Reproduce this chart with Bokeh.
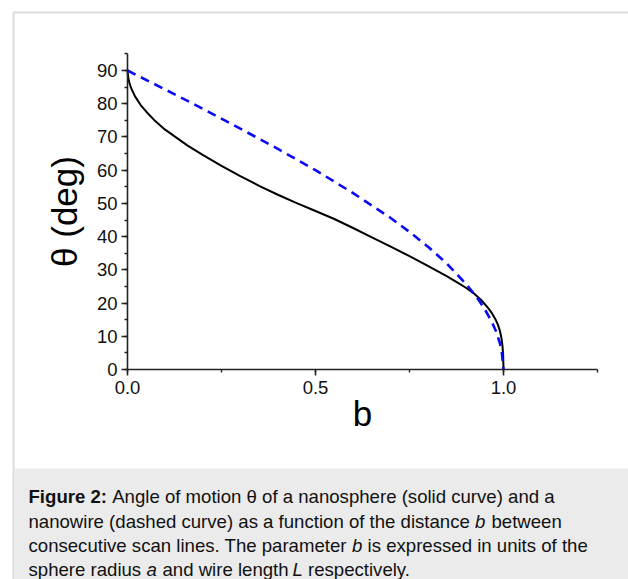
from bokeh.plotting import figure
from bokeh.models import (SingleIntervalTicker, PrintfTickFormatter, LinearAxis,
                          ColumnDataSource, Range1d)
from bokeh.core.properties import value
from bokeh.embed import file_html
from bokeh.resources import INLINE

# ---- data ----
# nanosphere (solid curve)
b_sphere = [0.0, 0.002, 0.005, 0.01, 0.02, 0.035, 0.05, 0.07, 0.10, 0.13, 0.16,
            0.20, 0.25, 0.30, 0.35, 0.40, 0.45, 0.50, 0.55, 0.60, 0.65, 0.70,
            0.75, 0.80, 0.85, 0.88, 0.90, 0.92, 0.94, 0.96, 0.97, 0.98, 0.985,
            0.99, 0.994, 0.997, 0.999, 1.0]
theta_sphere = [90.0, 87.8, 86.3, 84.6, 82.2, 79.6, 77.6, 75.2, 72.2, 69.8, 67.4,
                64.6, 61.3, 58.2, 55.3, 52.6, 50.1, 47.7, 45.3, 42.6, 39.8, 37.0,
                34.1, 31.1, 28.0, 26.0, 24.6, 23.0, 21.0, 18.4, 16.8, 14.8, 13.5,
                11.8, 9.8, 7.4, 4.5, 0.0]
# nanowire (dashed curve)
b_wire = [0.0, 0.1, 0.2, 0.3, 0.4, 0.5, 0.6, 0.7, 0.75, 0.8, 0.85, 0.9, 0.93,
          0.95, 0.97, 0.98, 0.99, 0.995, 1.0]
theta_wire = [90.0, 84.3, 78.5, 72.5, 66.4, 60.0, 53.1, 45.6, 41.4, 36.9, 31.8,
              25.8, 21.6, 18.2, 14.1, 11.5, 8.1, 5.7, 0.0]

x_label = "b"
y_label = "\u03b8 (deg)"
x_axis_extent = (0, 1.25)
y_axis_extent = (0, 95)

# caption text runs
cap_text = ["Figure 2:", "Angle of motion \u03b8 of a nanosphere (solid curve) and a",
            "nanowire (dashed curve) as a function of the distance", "b", "between",
            "consecutive scan lines. The parameter", "b", "is expressed in units of the",
            "sphere radius", "a", "and wire length", "L", "respectively."]
cap_style = ["bold", "normal",
             "normal", "italic", "normal",
             "normal", "italic", "normal",
             "normal", "italic", "normal", "italic", "normal"]
cap_line = [0, 0, 1, 1, 1, 2, 2, 2, 3, 3, 3, 3, 3]
# layout (page pixels)
cap_x = [28, 111.7, 28, 474.6, 491.0, 28, 351.6, 367.1, 28, 145.9, 162.0, 292.0, 307.5]
cap_baselines = [496.3, 520.6, 544.7, 568.8]

FONT = "Liberation Sans"
W, H = 628, 579
X0_PX, Y0_PX = 127.0, 369.0          # pixel position of the data origin
PX_PER_B, PX_PER_DEG = 376.0, 3.3222  # pixel scale of the axes

p = figure(width=W, height=H,
           x_range=Range1d(-X0_PX / PX_PER_B, (W - X0_PX) / PX_PER_B),
           y_range=Range1d(-(H - Y0_PX) / PX_PER_DEG, Y0_PX / PX_PER_DEG),
           x_axis_type=None, y_axis_type=None,
           output_backend="svg", toolbar_location=None,
           min_border_left=0, min_border_right=0, min_border_top=0,
           min_border_bottom=0)
p.extra_x_ranges = {"px": Range1d(0, W)}
p.extra_y_ranges = {"px": Range1d(H, 0)}
p.outline_line_color = None
p.background_fill_color = "white"
p.border_fill_color = "white"

# caption panel and the light frame of the figure
p.quad(left=[14], right=[W], top=[468], bottom=[H + 5], fill_color="#ebebeb",
       line_color=None, x_range_name="px", y_range_name="px")
p.segment(x0=[13, 13], x1=[13, W + 5], y0=[12, 12], y1=[H + 5, 12],
          line_color="#dcdcdc", line_width=2, x_range_name="px", y_range_name="px")

for style in ("normal", "bold", "italic"):
    idx = [i for i, s in enumerate(cap_style) if s == style]
    p.text(x=[cap_x[i] for i in idx], y=[cap_baselines[cap_line[i]] for i in idx],
           text=[cap_text[i] for i in idx], text_font=value(FONT),
           text_font_size=value("18.6px"), text_font_style=style,
           text_color="#111111", text_baseline="alphabetic", text_align="left",
           x_range_name="px", y_range_name="px")

# curves
src_s = ColumnDataSource(dict(b=b_sphere, t=theta_sphere))
src_w = ColumnDataSource(dict(b=b_wire, t=theta_wire))
p.line("b", "t", source=src_s, line_color="black", line_width=2,
       line_join="round")
p.line("b", "t", source=src_w, line_color="#0a0af5", line_width=2.6,
       line_dash="9 6", line_join="round")

# axes
xaxis = LinearAxis(fixed_location=0, bounds=x_axis_extent,
                   ticker=SingleIntervalTicker(interval=0.5, num_minor_ticks=2),
                   formatter=PrintfTickFormatter(format="%.1f"),
                   axis_label=x_label)
yaxis = LinearAxis(fixed_location=0, bounds=y_axis_extent,
                   ticker=SingleIntervalTicker(interval=10, num_minor_ticks=2),
                   axis_label=y_label)
for ax in (xaxis, yaxis):
    ax.axis_line_color = "#222222"
    ax.axis_line_width = 1.6
    ax.major_tick_line_color = "#222222"
    ax.minor_tick_line_color = "#222222"
    ax.major_tick_line_width = 1.6
    ax.minor_tick_line_width = 1.4
    ax.major_tick_in = 0
    ax.major_tick_out = 6
    ax.minor_tick_in = 0
    ax.minor_tick_out = 3
    ax.major_label_text_font = FONT
    ax.major_label_text_font_size = "18.5px"
    ax.major_label_text_color = "#111111"
    ax.axis_label_text_font = FONT
    ax.axis_label_text_font_size = "35px"
    ax.axis_label_text_font_style = "normal"
    ax.axis_label_text_color = "black"
xaxis.major_label_standoff = 5
yaxis.major_label_standoff = 4
xaxis.axis_label_standoff = -3
yaxis.axis_label_standoff = 10
p.add_layout(xaxis, "below")
p.add_layout(yaxis, "left")

open("out.html", "w").write(file_html(p, INLINE))
